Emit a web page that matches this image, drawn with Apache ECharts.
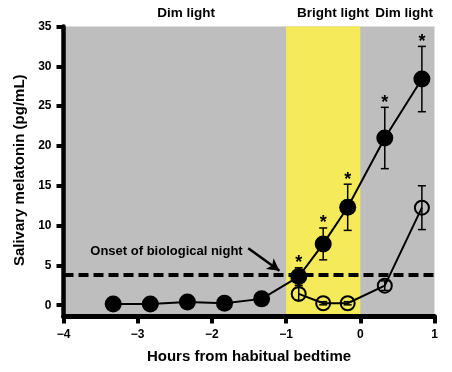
<!DOCTYPE html>
<html>
<head>
<meta charset="utf-8">
<script src="https://cdn.jsdelivr.net/npm/echarts@6/dist/echarts.min.js"></script>
<style>
  html, body { margin: 0; padding: 0; background: #ffffff; }
  #chart { width: 452px; height: 372px; }
</style>
</head>
<body>
<div id="chart"></div>
<script>
// ---- data ----
const hours = [-3.33, -2.83, -2.33, -1.83, -1.33, -0.83, -0.5, -0.17, 0.33, 0.83];
const dimMean = [0.15, 0.15, 0.4, 0.25, 0.8, 3.6, 7.7, 12.3, 21.0, 28.4];
const dimSem  = [0.3, 0.3, 0.3, 0.3, 0.4, 1.1, 2.0, 2.9, 3.85, 4.1];
const dimSignificant = [0, 0, 0, 0, 0, 1, 1, 1, 1, 1];

const brightHours = [-0.83, -0.5, -0.17, 0.33, 0.83];
const brightMean  = [1.42, 0.25, 0.25, 2.46, 12.25];
const brightSem   = [0.8, 0.2, 0.2, 0.6, 2.75];

const onsetThreshold = 3.8;
const brightWindow = [-1, 0];
const xTicks = [-4, -3, -2, -1, 0, 1];
const yTicks = [0, 5, 10, 15, 20, 25, 30, 35];
const arrowFrom = [-1.51, 7.16];
const arrowTo = [-1.09, 4.34];

const FONT = "'Liberation Sans', Arial, sans-serif";
const GRAY = '#bebebe';
const YELLOW = '#f5eb5a';

const chart = echarts.init(document.getElementById('chart'), null, { renderer: 'canvas' });

function pairs(xs, ys) { return xs.map((x, i) => [x, ys[i]]); }

function errorBars(xs, means, sems, sigs) {
  return xs.map((x, i) => [x, means[i], sems[i], sigs ? sigs[i] : 0]);
}

function renderErr(params, api) {
  const x = api.value(0), m = api.value(1), e = api.value(2), sig = api.value(3);
  const top = api.coord([x, m + e]);
  const bot = api.coord([x, m - e]);
  const cap = 4;
  const st = { stroke: '#000', lineWidth: 1.5 };
  const children = [
    { type: 'line', shape: { x1: top[0], y1: top[1], x2: bot[0], y2: bot[1] }, style: st },
    { type: 'line', shape: { x1: top[0] - cap, y1: top[1], x2: top[0] + cap, y2: top[1] }, style: st },
    { type: 'line', shape: { x1: bot[0] - cap, y1: bot[1], x2: bot[0] + cap, y2: bot[1] }, style: st }
  ];
  if (sig) {
    children.push({
      type: 'text', x: top[0], y: top[1] - 4.5,
      style: { text: '*', font: 'bold 18px ' + FONT, fill: '#000', align: 'center', verticalAlign: 'middle' }
    });
  }
  return { type: 'group', children };
}

const option = {
  animation: false,
  backgroundColor: '#ffffff',
  grid: {
    left: 63.5, right: 17.5, top: 26.5, bottom: 58,
    show: true, backgroundColor: GRAY, borderWidth: 0
  },
  xAxis: {
    type: 'value', min: -4, max: 1, interval: 1,
    offset: 2.5,
    name: 'Hours from habitual bedtime',
    nameLocation: 'middle', nameGap: 33,
    nameTextStyle: { fontFamily: FONT, fontWeight: 'bold', fontSize: 15, color: '#000' },
    axisLine: { show: true, onZero: false, lineStyle: { color: '#000', width: 5 } },
    axisTick: { show: true, length: 7, lineStyle: { color: '#000', width: 4 } },
    axisLabel: {
      margin: 12, color: '#000', fontFamily: FONT, fontWeight: 'bold', fontSize: 12,
      formatter: v => (v < 0 ? '\u2212' + Math.abs(v) : String(v))
    },
    splitLine: { show: false }
  },
  yAxis: {
    type: 'value', min: -1.1, max: 35,
    name: 'Salivary melatonin (pg/mL)',
    nameLocation: 'middle', nameGap: 36, nameRotate: 90,
    nameTextStyle: { fontFamily: FONT, fontWeight: 'bold', fontSize: 15, color: '#000' },
    axisLine: { show: true, onZero: false, lineStyle: { color: '#000', width: 4.5 } },
    axisTick: { show: true, length: 7, customValues: yTicks, lineStyle: { color: '#000', width: 4 } },
    axisLabel: {
      margin: 12, color: '#000', fontFamily: FONT, fontWeight: 'bold', fontSize: 12,
      customValues: yTicks
    },
    splitLine: { show: false }
  },
  graphic: [
    { type: 'text', x: 186, y: 13, style: { text: 'Dim light', font: 'bold 13.5px ' + FONT, fill: '#000', align: 'center', verticalAlign: 'middle' } },
    { type: 'text', x: 333, y: 13, style: { text: 'Bright light', font: 'bold 13.5px ' + FONT, fill: '#000', align: 'center', verticalAlign: 'middle' } },
    { type: 'text', x: 404, y: 13, style: { text: 'Dim light', font: 'bold 13.5px ' + FONT, fill: '#000', align: 'center', verticalAlign: 'middle' } },
    { type: 'text', x: 166.5, y: 251, style: { text: 'Onset of biological night', font: 'bold 13px ' + FONT, fill: '#000', align: 'center', verticalAlign: 'middle' } }
  ],
  series: [
    {
      name: 'background', type: 'line', data: [], z: 1, silent: true,
      markArea: {
        silent: true, z: 1,
        itemStyle: { color: YELLOW, opacity: 1 },
        data: [[{ xAxis: brightWindow[0] }, { xAxis: brightWindow[1] }]]
      },
      markLine: {
        silent: true, z: 2, symbol: ['none', 'none'],
        label: { show: false },
        lineStyle: { color: '#000', width: 4, type: [10, 5] },
        data: [{ yAxis: onsetThreshold }]
      }
    },
    {
      name: 'arrow', type: 'line', data: [], z: 4, silent: true,
      markLine: {
        silent: true, z: 4, symbol: ['none', 'arrow'], symbolSize: [10, 12],
        label: { show: false },
        lineStyle: { color: '#000', width: 2.5, type: 'solid' },
        data: [[{ coord: arrowFrom }, { coord: arrowTo }]]
      }
    },
    {
      name: 'dimErr', type: 'custom', z: 3, silent: true,
      renderItem: renderErr,
      data: errorBars(hours, dimMean, dimSem, dimSignificant)
    },
    {
      name: 'brightErr', type: 'custom', z: 3, silent: true,
      renderItem: renderErr,
      data: errorBars(brightHours, brightMean, brightSem, null)
    },
    {
      name: 'Dim light', type: 'line', z: 5,
      data: pairs(hours, dimMean),
      symbol: 'circle', symbolSize: 17, showAllSymbol: true,
      lineStyle: { color: '#000', width: 2 },
      itemStyle: { color: '#000', borderWidth: 0 }
    },
    {
      name: 'Bright light', type: 'line', z: 5,
      data: pairs(brightHours, brightMean),
      symbol: 'circle', symbolSize: 14, showAllSymbol: true,
      lineStyle: { color: '#000', width: 2 },
      itemStyle: { color: 'rgba(0,0,0,0)', borderColor: '#000', borderWidth: 2 }
    }
  ]
};
chart.setOption(option);
</script>
</body>
</html>
